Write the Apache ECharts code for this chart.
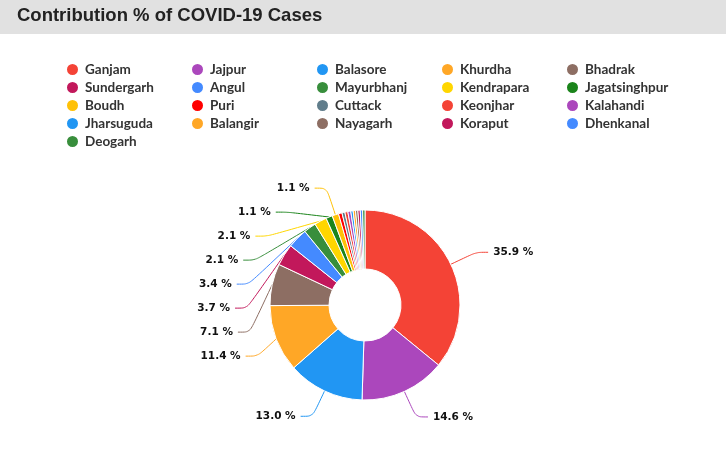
<!DOCTYPE html>
<html><head><meta charset="utf-8">
<script src="https://cdn.jsdelivr.net/npm/echarts@6/dist/echarts.min.js"></script>
<style>html,body{margin:0;padding:0;background:#fff}#c{width:726px;height:468px}</style>
</head><body><div id="c"></div>
<script>
const districts = ["Ganjam","Jajpur","Balasore","Khurdha","Bhadrak","Sundergarh","Angul","Mayurbhanj","Kendrapara","Jagatsinghpur","Boudh","Puri","Cuttack","Keonjhar","Kalahandi","Jharsuguda","Balangir","Nayagarh","Koraput","Dhenkanal","Deogarh"];
const shares = [35.9,14.6,13.0,11.4,7.1,3.7,3.4,2.1,2.1,1.1,1.1,0.6,0.5,0.5,0.5,0.4,0.4,0.4,0.4,0.4,0.4];
const colors = ["#F44336","#AB47BC","#2196F3","#FFA726","#8D6E63","#C2185B","#448AFF","#388E3C","#FFD600","#1B841B","#FFC107","#FF0000","#607D8B","#F44336","#AB47BC","#2196F3","#FFA726","#8D6E63","#C2185B","#448AFF","#388E3C"];
const titleText = "Contribution % of COVID-19 Cases";

const chart = echarts.init(document.getElementById('c'));
const colLeft = [65,190,315,440,565];
const legends = colLeft.map((x,i)=>({
  orient:'vertical', left:x, top:62, padding:0, itemWidth:13, itemHeight:13, itemGap:3,
  icon:'circle', selectedMode:false,
  textStyle:{fontFamily:'Lato', fontWeight:'bold', fontSize:13.5, color:'#333', padding:[0,0,0,1]},
  data: districts.filter((d,k)=>k%5===i)
}));
chart.setOption({
  animation:false,
  color: colors,
  graphic:[{type:'rect', left:0, top:0, shape:{width:726, height:34}, style:{fill:'#e1e1e1'}, z:-1}],
  title:{text:titleText, left:12, top:1, textStyle:{fontFamily:'Liberation Sans, Arial', fontWeight:'bold', fontSize:18.5, color:'#222'}},
  legend: legends,
  series:[{
    type:'pie', center:[365,305], radius:[36,95], startAngle:90, clockwise:true,
    itemStyle:{borderColor:'#fff', borderWidth:1},
    label:{show:true, formatter:p=>p.value.toFixed(1)+' %', fontFamily:'DejaVu Sans', fontWeight:'bold', fontSize:10.5, color:'#111', lineHeight:22},
    labelLine:{show:true, length:28, length2:12, smooth:true, lineStyle:{width:1}},
    data: districts.map((d,i)=>{
      const o = {name:d, value:shares[i]};
      if (shares[i] < 1) { o.label={show:false}; o.labelLine={show:false}; }
      return o;
    })
  }]
});
</script></body></html>
